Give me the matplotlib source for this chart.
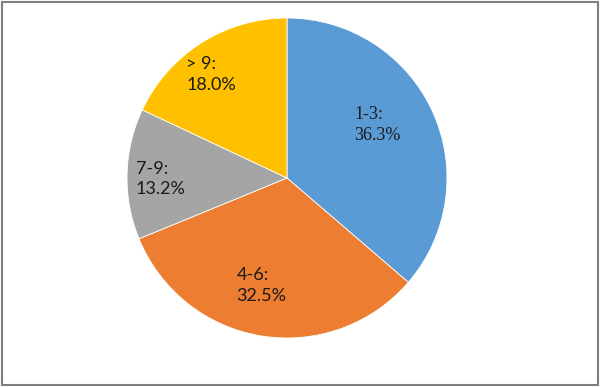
import numpy as np
import matplotlib.pyplot as plt
from matplotlib.patches import Rectangle

labels = ["1-3", "4-6", "7-9", "> 9"]
shares = [36.3, 32.5, 13.2, 18.0]
colors = ["#5B9BD5", "#ED7D31", "#A5A5A5", "#FFC000"]
label_dist = [0.65, 0.68, 0.79, 0.80]
label_shift = [(-0.025, 0.06), (-0.05, 0.0), (0.0, -0.025), (-0.045, -0.03)]
label_font = ["Liberation Serif", "Lato", "Lato", "Lato"]

fig = plt.figure(figsize=(6, 3.87), dpi=100)
ax = fig.add_axes([0.2117, 0.1266, 0.5333, 0.8269])

wedges, _ = ax.pie(shares, colors=colors, startangle=90, counterclock=False,
                   wedgeprops=dict(edgecolor="white", linewidth=0.6))

for w, lab, val, d, (dx, dy), fam in zip(wedges, labels, shares, label_dist,
                                         label_shift, label_font):
    mid = np.deg2rad((w.theta1 + w.theta2) / 2)
    ax.text(d * np.cos(mid) + dx, d * np.sin(mid) + dy, f"{lab}:\n{val:.1f}%",
            ha="center", va="center", multialignment="left",
            fontsize=13, family=fam, color="#1a1a1a", linespacing=1.35)

ax.set_xlim(-1, 1)
ax.set_ylim(-1, 1)
ax.set_aspect("auto")

fig.patches.append(Rectangle((0.004, 0.004), 0.992, 0.991, transform=fig.transFigure,
                             fill=False, edgecolor="#7f7f7f", linewidth=1.5))

fig.savefig("out.png", dpi=100)
